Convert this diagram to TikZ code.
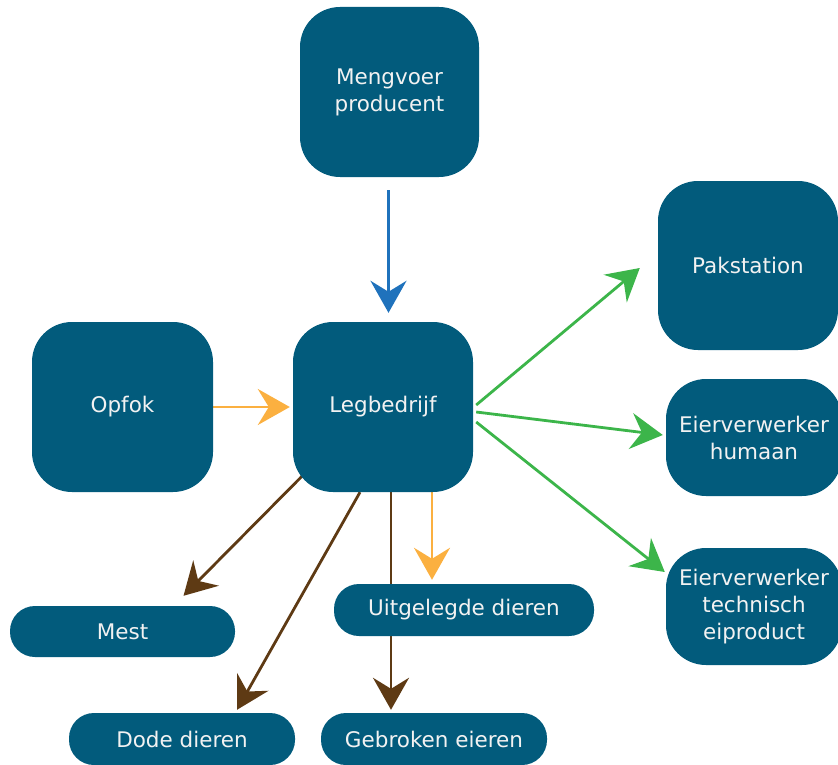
\documentclass[tikz,border=0pt]{standalone}
\usepackage{fontspec}
\setmainfont{DejaVu Sans}
\usetikzlibrary{arrows.meta,backgrounds}
\definecolor{boxfill}{HTML}{025B7C}
\definecolor{txtc}{HTML}{F2F2F2}
\definecolor{bluearr}{HTML}{1F72BC}
\definecolor{orangearr}{HTML}{FBB040}
\definecolor{brownarr}{HTML}{5E3A14}
\definecolor{greenarr}{HTML}{3CB54A}
\tikzset{
  bigbox/.style={fill=boxfill, draw=none, rounded corners=40pt, text=txtc, align=center,
    font=\fontsize{21.5}{27}\selectfont, inner sep=0pt},
  pill/.style={fill=boxfill, draw=none, rounded corners=25pt, text=txtc, align=center,
    font=\fontsize{21.5}{27}\selectfont, inner sep=0pt},
  flow/.style={line width=2.8pt, -{Stealth[length=32pt,width=36pt,inset=11pt]}},
}
\begin{document}
\begin{tikzpicture}[x=1pt,y=-1pt]
\useasboundingbox (0,0) rectangle (838,765);
\clip (0,0) rectangle (838,765);
\node[bigbox, minimum width=179pt, minimum height=170pt] (meng) at (389.5,92) {Mengvoer\\producent};
\node[bigbox, minimum width=181pt, minimum height=170pt] (opfok) at (122.5,407) {Opfok};
\node[bigbox, minimum width=180pt, minimum height=170pt] (leg) at (383,407) {Legbedrijf};
\node[bigbox, minimum width=180pt, minimum height=169pt] (pak) at (748,265.5) {Pakstation};
\node[bigbox, minimum width=176pt, minimum height=117pt] (hum) at (754,437.5) {Eierverwerker\\humaan};
\node[bigbox, minimum width=176pt, minimum height=117pt] (tech) at (754,606.5) {Eierverwerker\\technisch\\eiproduct};
\node[pill, minimum width=225pt, minimum height=51pt] (mest) at (122.5,631.5) {Mest};
\node[pill, minimum width=260pt, minimum height=52pt] (uit) at (464,610) {Uitgelegde dieren};
\node[pill, minimum width=226pt, minimum height=52pt] (dode) at (182,739) {Dode dieren};
\node[pill, minimum width=226pt, minimum height=52pt] (geb) at (434,739) {Gebroken eieren};
\begin{scope}[on background layer]
\draw[flow, bluearr] ([xshift=-1pt,yshift=-13pt]meng.south) -- ([xshift=5.5pt,yshift=9pt]leg.north);
\draw[flow, orangearr] (opfok.east) -- ([xshift=-3pt]leg.west);
\draw[flow, orangearr] ([xshift=49pt]leg.south) -- ([xshift=-32pt,yshift=4pt]uit.north);
\draw[flow, brownarr] ([xshift=-80pt,yshift=17pt]leg.south) -- ([xshift=61pt,yshift=10pt]mest.north);
\draw[flow, brownarr] ([xshift=-23pt]leg.south) -- ([xshift=55pt,yshift=3pt]dode.north);
\draw[flow, brownarr] ([xshift=8pt]leg.south) -- ([xshift=-43pt,yshift=3pt]geb.north);
\draw[flow, greenarr] ([xshift=3pt,yshift=2pt]leg.east) -- ([xshift=-18pt,yshift=-2.5pt]pak.west);
\draw[flow, greenarr] ([xshift=3pt,yshift=-5pt]leg.east) -- ([xshift=-3pt,yshift=2.5pt]hum.west);
\draw[flow, greenarr] ([xshift=3pt,yshift=-15pt]leg.east) -- ([xshift=-1pt,yshift=34.5pt]tech.west);
\end{scope}
\end{tikzpicture}
\end{document}
